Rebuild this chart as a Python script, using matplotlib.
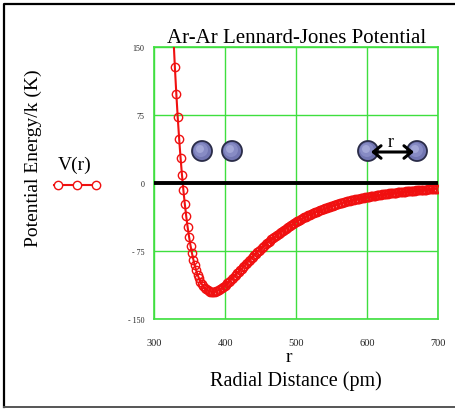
import numpy as np
import matplotlib
matplotlib.use('Agg')
import matplotlib.pyplot as plt
from matplotlib.patches import Circle

plt.rcParams['font.family'] = ['Liberation Serif', 'DejaVu Serif']

# radial distance (pm), sampled every 2 pm
r_pm = np.arange(325, 700, 2)
# V(r)/k in K
v_k = [
    195.6, 159.8, 127.5, 98.5, 72.3, 48.8, 27.6, 8.7, -8.2, -23.4,
    -36.9, -48.9, -59.5, -69.0, -77.3, -84.5, -90.9, -96.4, -101.2, -105.3,
    -108.7, -111.6, -114.0, -115.9, -117.4, -118.5, -119.3, -119.8, -120.0, -119.9,
    -119.7, -119.2, -118.6, -117.8, -116.9, -115.8, -114.7, -113.4, -112.1, -110.7,
    -109.2, -107.7, -106.1, -104.5, -102.9, -101.3, -99.6, -97.9, -96.2, -94.5,
    -92.8, -91.2, -89.5, -87.8, -86.1, -84.5, -82.9, -81.2, -79.6, -78.1,
    -76.5, -75.0, -73.4, -71.9, -70.5, -69.0, -67.6, -66.2, -64.8, -63.5,
    -62.1, -60.8, -59.6, -58.3, -57.1, -55.9, -54.7, -53.5, -52.4, -51.3,
    -50.2, -49.1, -48.1, -47.1, -46.1, -45.1, -44.2, -43.2, -42.3, -41.4,
    -40.5, -39.7, -38.9, -38.0, -37.2, -36.5, -35.7, -34.9, -34.2, -33.5,
    -32.8, -32.1, -31.5, -30.8, -30.2, -29.5, -28.9, -28.3, -27.8, -27.2,
    -26.6, -26.1, -25.6, -25.0, -24.5, -24.0, -23.5, -23.1, -22.6, -22.2,
    -21.7, -21.3, -20.9, -20.4, -20.0, -19.6, -19.3, -18.9, -18.5, -18.1,
    -17.8, -17.4, -17.1, -16.8, -16.4, -16.1, -15.8, -15.5, -15.2, -14.9,
    -14.6, -14.4, -14.1, -13.8, -13.6, -13.3, -13.1, -12.8, -12.6, -12.3,
    -12.1, -11.9, -11.7, -11.5, -11.2, -11.0, -10.8, -10.6, -10.5, -10.3,
    -10.1, -9.9, -9.7, -9.5, -9.4, -9.2, -9.0, -8.9, -8.7, -8.6,
    -8.4, -8.3, -8.1, -8.0, -7.8, -7.7, -7.6, -7.4, -7.3, -7.2,
    -7.1, -6.9, -6.8, -6.7, -6.6, -6.5, -6.4, -6.3,
]

xticks = [300, 400, 500, 600, 700]
yticks = [-150, -75, 0, 75, 150]
ytick_labels = ['- 150', '- 75', '0', '75', '150']

W, H = 456, 410
fig = plt.figure(figsize=(W / 100, H / 100), dpi=100)
ax = fig.add_axes([154.3 / W, 1 - 320 / H, 284 / W, 272 / H])

green = '#3fdf3f'
red = '#f01010'

ax.plot(r_pm, v_k, color=red, lw=1.5, marker='o', ms=6, mfc='none',
        mec=red, mew=1.0, zorder=3)
ax.axhline(0, color='black', lw=2.8, zorder=4)

ax.set_xlim(300, 700)
ax.set_ylim(-150, 150)
ax.set_xticks(xticks)
ax.set_yticks(yticks)
ax.set_yticklabels(ytick_labels)
ax.tick_params(axis='x', length=0, pad=14, labelsize=7.5, colors='#222222')
ax.tick_params(axis='y', length=0, pad=7, labelsize=5.8, colors='#222222')
ax.grid(True, color=green, lw=1)
for s in ax.spines.values():
    s.set_color(green)
    s.set_linewidth(1.2)

ax.set_title('Ar-Ar Lennard-Jones Potential', fontsize=15, pad=3)

# overlay in pixel coordinates for labels, legend and the atom sketches
ov = fig.add_axes([0, 0, 1, 1])
ov.set_xlim(0, W)
ov.set_ylim(H, 0)
ov.axis('off')

ov.text(289, 358, 'r', fontsize=14, ha='center', va='center')
ov.text(296, 381, 'Radial Distance (pm)', fontsize=14.5, ha='center', va='center')
ov.text(33, 158, 'Potential Energy/k (K)', fontsize=14, ha='center', va='center',
        rotation=90)

# legend
ov.text(75, 165, 'V(r)', fontsize=14, ha='center', va='center')
ov.plot([54, 100], [185.5, 185.5], color=red, lw=1.5)
ov.plot([58, 77, 96], [185.5, 185.5, 185.5], ls='none', marker='o', ms=6,
        mfc='white', mec=red, mew=1.0)


def atom(x, y):
    ov.add_patch(Circle((x, y), 10, facecolor='#7276b2', edgecolor='#2a2c48', lw=1.3, zorder=5))
    ov.add_patch(Circle((x - 1, y - 1), 7, facecolor='#878bc4', edgecolor='none', zorder=5))
    ov.add_patch(Circle((x - 2, y - 2), 4, facecolor='#a2a6d6', edgecolor='none', zorder=5))


for cx in (202, 232, 368, 417):
    atom(cx, 152)

ov.annotate('', xy=(414, 153), xytext=(371, 153),
            arrowprops=dict(arrowstyle='<->,head_length=0.55,head_width=0.45',
                            lw=2.2, color='black', shrinkA=0, shrinkB=0), zorder=6)
ov.text(391, 143, 'r', fontsize=13, ha='center', va='center', zorder=7)

# frame around the whole picture
ov.plot([4.5, 4.5, W], [408, 4.5, 4.5], color='black', lw=1.6)
ov.plot([4.5, W], [408, 408], color='#555555', lw=1.4)

fig.savefig('out.png', dpi=100)
